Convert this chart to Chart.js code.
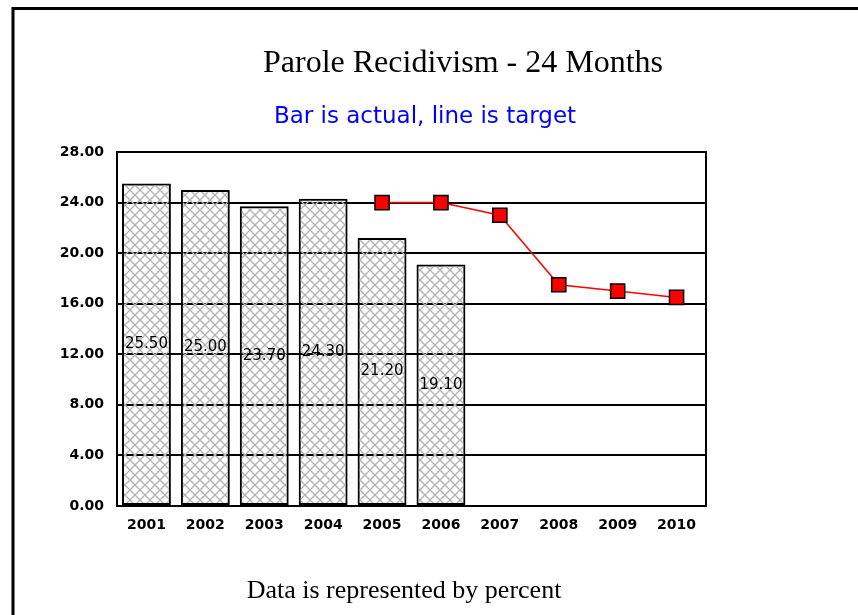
<!DOCTYPE html>
<html>
<head>
<meta charset="utf-8">
<script src="https://cdn.jsdelivr.net/npm/chart.js@4"></script>
<style>
  html, body { margin: 0; padding: 0; background: #fff; }
  #wrap { width: 858px; height: 615px; position: relative; }
</style>
</head>
<body>
<div id="wrap"><canvas id="chart" width="858" height="615"></canvas></div>
<script>
// chart data
const years = ['2001', '2002', '2003', '2004', '2005', '2006', '2007', '2008', '2009', '2010'];
const actual = [25.5, 25.0, 23.7, 24.3, 21.2, 19.1, null, null, null, null];
const target = [null, null, null, null, 24.0, 24.0, 23.0, 17.5, 17.0, 16.5];
const yTicks = [0, 4, 8, 12, 16, 20, 24, 28];

const titleText = 'Parole Recidivism - 24 Months';
const subtitleText = 'Bar is actual, line is target';
const footerText = 'Data is represented by percent';

// cross hatch fill for the bars
function makeHatch() {
    const c = document.createElement('canvas');
    c.width = 10; c.height = 10;
    const g = c.getContext('2d');
    g.strokeStyle = '#b4b4b4';
    g.lineWidth = 1.4;
    g.beginPath();
    g.moveTo(0, 0); g.lineTo(10, 10);
    g.moveTo(10, 0); g.lineTo(0, 10);
    g.stroke();
    return document.getElementById('chart').getContext('2d').createPattern(c, 'repeat');
}

const decor = {
    id: 'decor',
    beforeDraw(chart) {
        const ctx = chart.ctx;
        ctx.save();
        ctx.fillStyle = '#fff';
        ctx.fillRect(0, 0, chart.width, chart.height);
        // page frame
        ctx.strokeStyle = '#000';
        ctx.lineWidth = 3;
        ctx.beginPath();
        ctx.moveTo(13, 615);
        ctx.lineTo(13, 8.5);
        ctx.lineTo(858, 8.5);
        ctx.stroke();
        ctx.restore();
    },
    afterDatasetsDraw(chart) {
        const ctx = chart.ctx;
        const a = chart.chartArea;
        ctx.save();
        // plot frame
        ctx.strokeStyle = '#000';
        ctx.lineWidth = 2;
        ctx.strokeRect(a.left, a.top, a.right - a.left, a.bottom - a.top);
        // value labels at the middle of each bar
        const meta = chart.getDatasetMeta(1);
        ctx.fillStyle = '#000';
        ctx.font = '15px "DejaVu Sans"';
        ctx.textAlign = 'center';
        ctx.textBaseline = 'middle';
        meta.data.forEach((bar, i) => {
            if (actual[i] == null) return;
            ctx.fillText(actual[i].toFixed(2), bar.x, (bar.y + bar.base) / 2);
        });
        ctx.restore();
    },
    afterDraw(chart) {
        const ctx = chart.ctx;
        ctx.save();
        ctx.textAlign = 'center';
        ctx.textBaseline = 'alphabetic';
        ctx.fillStyle = '#000';
        ctx.font = '32px "Liberation Serif"';
        ctx.fillText(titleText, 463, 72);
        ctx.fillStyle = '#0000ff';
        ctx.font = '23px "DejaVu Sans"';
        ctx.fillText(subtitleText, 425, 123);
        ctx.fillStyle = '#000';
        ctx.font = '26px "Liberation Serif"';
        ctx.fillText(footerText, 404, 598);
        ctx.restore();
    }
};

new Chart(document.getElementById('chart'), {
    data: {
        labels: years,
        datasets: [
            {
                type: 'line',
                label: 'Target',
                data: target,
                order: 0,
                borderColor: '#ff0000',
                borderWidth: 1.5,
                tension: 0,
                spanGaps: false,
                pointStyle: 'rect',
                pointRadius: 10,
                pointBackgroundColor: '#ff0000',
                pointBorderColor: '#000',
                pointBorderWidth: 1.5
            },
            {
                type: 'bar',
                label: 'Actual',
                data: actual,
                order: 1,
                backgroundColor: makeHatch(),
                borderColor: '#000',
                borderWidth: 2,
                borderSkipped: false,
                barPercentage: 0.83,
                categoryPercentage: 1
            }
        ]
    },
    options: {
        responsive: false,
        animation: false,
        layout: { padding: { left: 0, top: 152, right: 152, bottom: 0 } },
        plugins: {
            legend: { display: false },
            tooltip: { enabled: false }
        },
        scales: {
            x: {
                offset: true,
                grid: { display: false, drawTicks: false },
                border: { display: false },
                ticks: {
                    color: '#000',
                    padding: 11,
                    font: { family: 'DejaVu Sans', size: 14, weight: 'bold' }
                },
                afterFit: (s) => { s.height = 109; }
            },
            y: {
                min: 0,
                max: 28,
                afterBuildTicks: (s) => { s.ticks = yTicks.map(v => ({ value: v })); },
                grid: { color: '#000', lineWidth: 2, drawTicks: false },
                border: { display: false },
                ticks: {
                    color: '#000',
                    padding: 13,
                    font: { family: 'DejaVu Sans', size: 14, weight: 'bold' },
                    callback: (v) => Number(v).toFixed(2)
                },
                afterFit: (s) => { s.width = 117; }
            }
        }
    },
    plugins: [decor]
});
</script>
</body>
</html>
